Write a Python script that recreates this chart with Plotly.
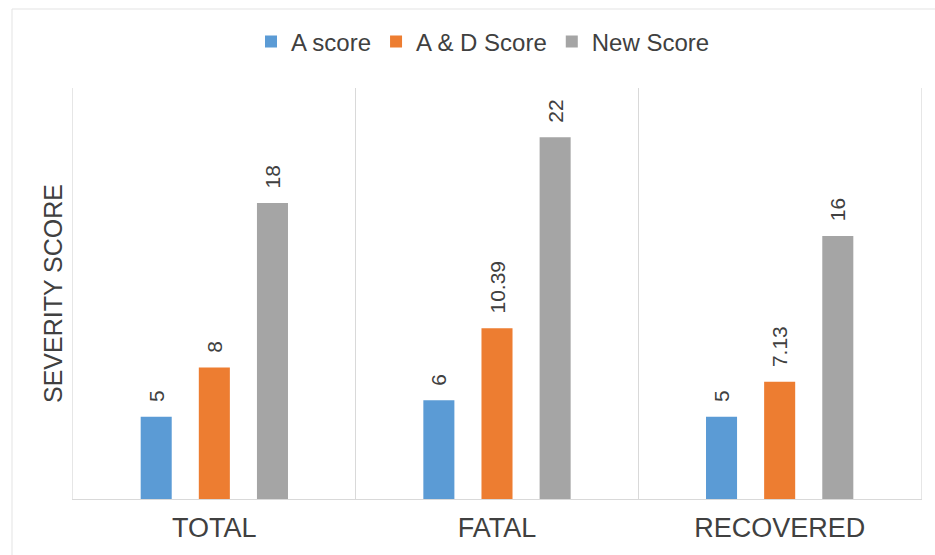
import plotly.graph_objects as go

categories = ["TOTAL", "FATAL", "RECOVERED"]
series_names = ["A score", "A & D Score", "New Score"]
a_score = [5, 6, 5]
ad_score = [8, 10.39, 7.13]
new_score = [18, 22, 16]
values = [a_score, ad_score, new_score]
colors = ["#5B9BD5", "#ED7D31", "#A5A5A5"]

W, H = 935, 555
ML, MR, MT, MB = 73, 14, 88, 56
pw = W - ML - MR
ph = H - MT - MB
FONT = "Liberation Sans, Arial, sans-serif"
NB = "\u00a0\u00a0"  # small visual gap between bar end and label

fig = go.Figure()
for name, vals, col in zip(series_names, values, colors):
    fig.add_trace(go.Bar(
        x=categories, y=vals, name=name, marker_color=col,
        marker_line_width=0,
        text=[NB + f"{v:g}" for v in vals], textposition="outside", textangle=-90,
        constraintext="none",
        textfont=dict(size=21, color="#404040", family=FONT),
        cliponaxis=False,
    ))

# faint outer chart frame
fx = (12 - ML) / pw
fy = (H - 9 - MB) / ph
fig.add_shape(type="line", xref="paper", yref="paper", x0=fx, x1=fx, y0=fy, y1=-(MB + 5) / ph,
              line=dict(color="#e3e3e3", width=1))
fig.add_shape(type="line", xref="paper", yref="paper", x0=fx, x1=(W - ML + 5) / pw, y0=fy, y1=fy,
              line=dict(color="#e3e3e3", width=1))

fig.update_layout(
    width=W, height=H,
    margin=dict(l=ML, r=MR, t=MT, b=MB, autoexpand=False),
    paper_bgcolor="white", plot_bgcolor="white",
    barmode="group", bargap=0.383, bargroupgap=0.466,
    font=dict(family=FONT, color="#404040"),
    showlegend=True,
    legend=dict(orientation="h", x=(483 - ML) / pw, xanchor="center",
                y=(H - MB - 42) / ph, yanchor="middle",
                font=dict(size=24, color="#404040"), itemwidth=30,
                traceorder="normal"),
    xaxis=dict(tickson="boundaries", showgrid=True, gridcolor="#d9d9d9", gridwidth=1,
               showline=True, linecolor="#d9d9d9", linewidth=1, ticks="",
               tickfont=dict(size=27, color="#404040"), ticklabelstandoff=5,
               range=[-0.5, 2.5], mirror=False, automargin=False),
    yaxis=dict(range=[0, 25], showgrid=False, zeroline=False, showticklabels=False,
               ticks="", showline=True, mirror=True, linecolor="#e6e6e6", linewidth=1,
               automargin=False,
               title=dict(text="SEVERITY SCORE", font=dict(size=25, color="#404040"), standoff=2)),
)

fig.write_html("out.html")
